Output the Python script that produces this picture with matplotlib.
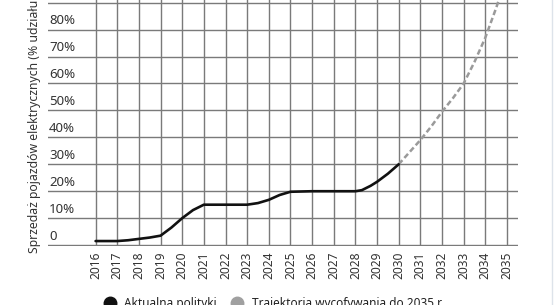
import matplotlib.pyplot as plt
from matplotlib.lines import Line2D

plt.rcParams['font.family'] = ['Noto Sans', 'DejaVu Sans']

years = list(range(2016, 2036))
pct_ticks = [0, 10, 20, 30, 40, 50, 60, 70, 80, 90]
pct_labels = ['0', '10%', '20%', '30%', '40%', '50%', '60%', '70%', '80%']

# current policy (incl. some half-year points for the bends)
cur_x = [2016, 2017, 2017.5, 2018, 2018.5, 2019, 2019.5, 2020, 2020.5, 2021, 2022, 2023,
         2023.5, 2024, 2024.5, 2025, 2026, 2027, 2028, 2028.3, 2028.7, 2029, 2029.5, 2030]
cur_y = [1.5, 1.5, 1.8, 2.3, 2.8, 3.5, 6.5, 10, 13, 15, 15, 15,
         15.6, 16.8, 18.6, 19.8, 20, 20, 20, 20.4, 22, 23.5, 26.5, 30]

# phase-out trajectory to 2035
traj_x = [2030, 2030.5, 2031, 2031.5, 2032, 2032.5, 2033, 2033.5, 2034, 2034.5, 2035]
traj_y = [30, 34.5, 39, 44, 49.5, 54.5, 60, 68, 77, 88, 100]

fig = plt.figure(figsize=(5.54, 3.05), dpi=100)
ax = fig.add_axes([0.0866, 0.192, 0.848, 0.808])

ax.set_xlim(2013.8, 2035.5)
ax.set_ylim(-0.5, 91)
for s in ax.spines.values():
    s.set_visible(False)

for v in pct_ticks:
    ax.axhline(v, color='#7a7a7a', lw=1.0, zorder=1)
for yr in years:
    ax.plot([yr, yr], [-0.5, 91], color='#7a7a7a', lw=1.0, zorder=1)

for v, lab in zip(pct_ticks, pct_labels):
    ax.text(2013.85, v + 0.9, lab, ha='left', va='bottom', fontsize=9.5, color='#333333')

ax.plot(traj_x, traj_y, color='#9a9a9a', lw=1.8, ls=(0, (2.2, 1.2)), zorder=3)
ax.plot(cur_x, cur_y, color='#111111', lw=1.9, zorder=4, solid_capstyle='round')

ax.set_yticks([])
ax.set_xticks(years)
ax.set_xticklabels([str(y) for y in years], rotation=90, fontsize=8.6, color='#333333')
ax.tick_params(axis='x', length=0, pad=3.5)

fig.text(35 / 554, 1 - 253 / 305, 'Sprzedaż pojazdów elektrycznych (% udziału w rynku)',
         rotation=90, ha='center', va='bottom', fontsize=8.8, color='#333333')

handles = [
    Line2D([], [], marker='o', ls='none', color='#111111', markersize=9),
    Line2D([], [], marker='o', ls='none', color='#a0a0a0', markersize=9),
]
fig.legend(handles, ['Aktualna polityki', 'Trajektoria wycofywania do 2035 r.'],
           loc='center', bbox_to_anchor=(0.49, 0.004), ncol=2, frameon=False,
           fontsize=8.5, handletextpad=0.25, columnspacing=0.7, labelcolor='#222222')

fig.add_artist(Line2D([0.997, 0.997], [0, 1], transform=fig.transFigure,
                      color='#dde3ea', lw=1))

fig.savefig('out.png', dpi=100)
